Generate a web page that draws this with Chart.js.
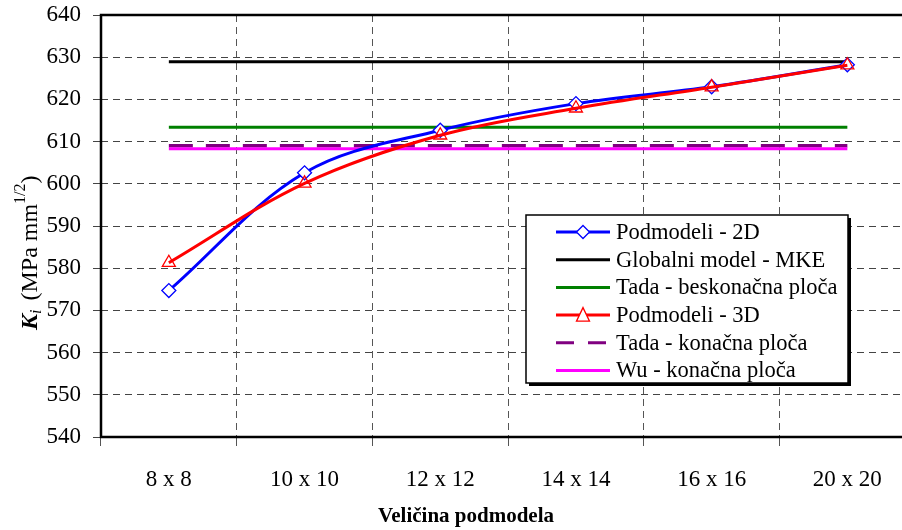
<!DOCTYPE html>
<html>
<head>
<meta charset="utf-8">
<script src="https://cdn.jsdelivr.net/npm/chart.js@4/dist/chart.umd.min.js"></script>
<style>
  html, body { margin: 0; padding: 0; background: #fff; overflow: hidden; }
  #wrap { width: 902px; height: 530px; overflow: hidden; }
  canvas { display: block; }
</style>
</head>
<body>
<div id="wrap"><canvas id="c" width="924" height="530"></canvas></div>
<script>
// Submodel sizes along the x axis
const categories = ['8 x 8', '10 x 10', '12 x 12', '14 x 14', '16 x 16', '20 x 20'];

// K_I values (MPa mm^1/2)
const podmodeli2D = [574.7, 602.6, 612.7, 619.0, 623.0, 628.2];
const podmodeli3D = [581.3, 600.1, 611.5, 617.9, 622.9, 628.1];
const globalniMKE = 628.9;
const tadaBeskonacna = 613.4;
const tadaKonacna = 609.0;
const wuKonacna = 608.3;

const yTicks = [540, 550, 560, 570, 580, 590, 600, 610, 620, 630, 640];

const flat = v => categories.map(() => v);
const SERIF = '"Liberation Serif", "Times New Roman", serif';

const datasets = [
  { label: 'Podmodeli - 3D', data: podmodeli3D, borderColor: '#ff0000', borderWidth: 3,
    pointStyle: 'triangle', pointRadius: 7.5, pointBorderWidth: 1.3, pointBorderColor: '#ff0000',
    pointBackgroundColor: 'rgba(255,255,255,0)', tension: 0.35, order: 0 },
  { label: 'Podmodeli - 2D', data: podmodeli2D, borderColor: '#0000ff', borderWidth: 3,
    pointStyle: 'rectRot', pointRadius: 7, pointBorderWidth: 1.3, pointBorderColor: '#0000ff',
    pointBackgroundColor: '#ffffff', tension: 0.35, order: 1 },
  { label: 'Wu - konačna ploča', data: flat(wuKonacna), borderColor: '#ff00ff', borderWidth: 3,
    pointRadius: 0, order: 2 },
  { label: 'Tada - konačna ploča', data: flat(tadaKonacna), borderColor: '#800080', borderWidth: 3.5,
    borderDash: [24, 13], pointRadius: 0, order: 3 },
  { label: 'Tada - beskonačna ploča', data: flat(tadaBeskonacna), borderColor: '#008000', borderWidth: 3,
    pointRadius: 0, order: 4 },
  { label: 'Globalni model - MKE', data: flat(globalniMKE), borderColor: '#000000', borderWidth: 3,
    pointRadius: 0, order: 5 }
];

// Legend entries in display order
const legendItems = [
  { text: 'Podmodeli - 2D', color: '#0000ff', marker: 'diamond' },
  { text: 'Globalni model - MKE', color: '#000000' },
  { text: 'Tada - beskonačna ploča', color: '#008000' },
  { text: 'Podmodeli - 3D', color: '#ff0000', marker: 'triangle' },
  { text: 'Tada - konačna ploča', color: '#800080', dash: [18, 14] },
  { text: 'Wu - konačna ploča', color: '#ff00ff' }
];

const decorations = {
  id: 'decorations',
  afterDatasetsDraw(chart) {
    const ctx = chart.ctx;
    const a = chart.chartArea;
    ctx.save();
    // plot frame
    ctx.strokeStyle = '#000';
    ctx.lineWidth = 2.5;
    ctx.strokeRect(a.left, a.top, a.right - a.left, a.bottom - a.top);
    ctx.restore();
  },
  afterDraw(chart) {
    const ctx = chart.ctx;
    ctx.save();

    // legend box with shadow
    const lx = 526, ly = 215, lw = 322, lh = 168;
    ctx.fillStyle = '#000';
    ctx.fillRect(lx + 3, ly + 3, lw, lh);
    ctx.fillStyle = '#fff';
    ctx.fillRect(lx, ly, lw, lh);
    ctx.strokeStyle = '#000';
    ctx.lineWidth = 1.5;
    ctx.strokeRect(lx, ly, lw, lh);

    ctx.font = '22.5px ' + SERIF;
    ctx.textBaseline = 'middle';
    ctx.textAlign = 'left';
    legendItems.forEach((it, i) => {
      const y = 232 + i * 27.7;
      ctx.strokeStyle = it.color;
      ctx.lineWidth = 3;
      ctx.setLineDash(it.dash || []);
      ctx.beginPath();
      ctx.moveTo(556, y);
      ctx.lineTo(610, y);
      ctx.stroke();
      ctx.setLineDash([]);
      ctx.lineWidth = 1.3;
      if (it.marker === 'diamond') {
        ctx.fillStyle = '#fff';
        ctx.beginPath();
        ctx.moveTo(583, y - 6.5); ctx.lineTo(589.5, y); ctx.lineTo(583, y + 6.5); ctx.lineTo(576.5, y);
        ctx.closePath(); ctx.fill(); ctx.stroke();
      } else if (it.marker === 'triangle') {
        ctx.fillStyle = '#fff';
        ctx.beginPath();
        ctx.moveTo(583, y - 7.5); ctx.lineTo(589.5, y + 6); ctx.lineTo(576.5, y + 6);
        ctx.closePath(); ctx.fill(); ctx.stroke();
      }
      ctx.fillStyle = '#000';
      ctx.fillText(it.text, 616, y + 1);
    });

    // x axis title
    ctx.font = 'bold 21px ' + SERIF;
    ctx.textAlign = 'center';
    ctx.textBaseline = 'middle';
    ctx.fillText('Veličina podmodela', 466, 517);

    // y axis title: K_i (MPa mm^1/2)
    ctx.translate(37, 330);
    ctx.rotate(-Math.PI / 2);
    ctx.textAlign = 'left';
    ctx.textBaseline = 'alphabetic';
    let x = 0;
    ctx.font = 'bold italic 24px ' + SERIF;
    ctx.fillText('K', x, 0); x += ctx.measureText('K').width;
    ctx.font = 'italic 16px ' + SERIF;
    ctx.fillText('i', x, 4); x += ctx.measureText('i').width + 9;
    ctx.font = '24px ' + SERIF;
    ctx.fillText('(MPa mm', x, 0); x += ctx.measureText('(MPa mm').width;
    ctx.font = '16px ' + SERIF;
    ctx.fillText('1/2', x, -12); x += ctx.measureText('1/2').width;
    ctx.font = '24px ' + SERIF;
    ctx.fillText(')', x, 0);
    ctx.restore();
  }
};

// drop the extra room reserved for edge tick labels so the plot box is fixed
const noEdgePadding = s => { s.paddingTop = 0; s.paddingBottom = 0; s.paddingLeft = 0; s.paddingRight = 0; };

new Chart(document.getElementById('c'), {
  type: 'line',
  data: { labels: categories, datasets },
  plugins: [decorations],
  options: {
    responsive: false,
    animation: false,
    layout: { padding: { top: 15, left: 0, right: 0, bottom: 0 } },
    plugins: { legend: { display: false }, tooltip: { enabled: false } },
    scales: {
      x: {
        offset: true,
        afterFit(s) { s.height = 93; noEdgePadding(s); },
        grid: { offset: true, color: '#555', lineWidth: 1, tickLength: 9, tickColor: '#555' },
        border: { display: false, dash: [7, 5] },
        ticks: { color: '#000', font: { family: SERIF, size: 23 }, padding: 20, maxRotation: 0 }
      },
      y: {
        min: 540, max: 640,
        afterFit(s) { s.width = 101; noEdgePadding(s); },
        afterBuildTicks(s) { s.ticks = yTicks.map(v => ({ value: v })); },
        grid: { color: '#444', lineWidth: 1, tickLength: 8, tickColor: '#444', tickBorderDash: [] },
        border: { display: false, dash: [7, 5] },
        ticks: { color: '#000', font: { family: SERIF, size: 23 }, padding: 12 }
      }
    }
  }
});
</script>
</body>
</html>
